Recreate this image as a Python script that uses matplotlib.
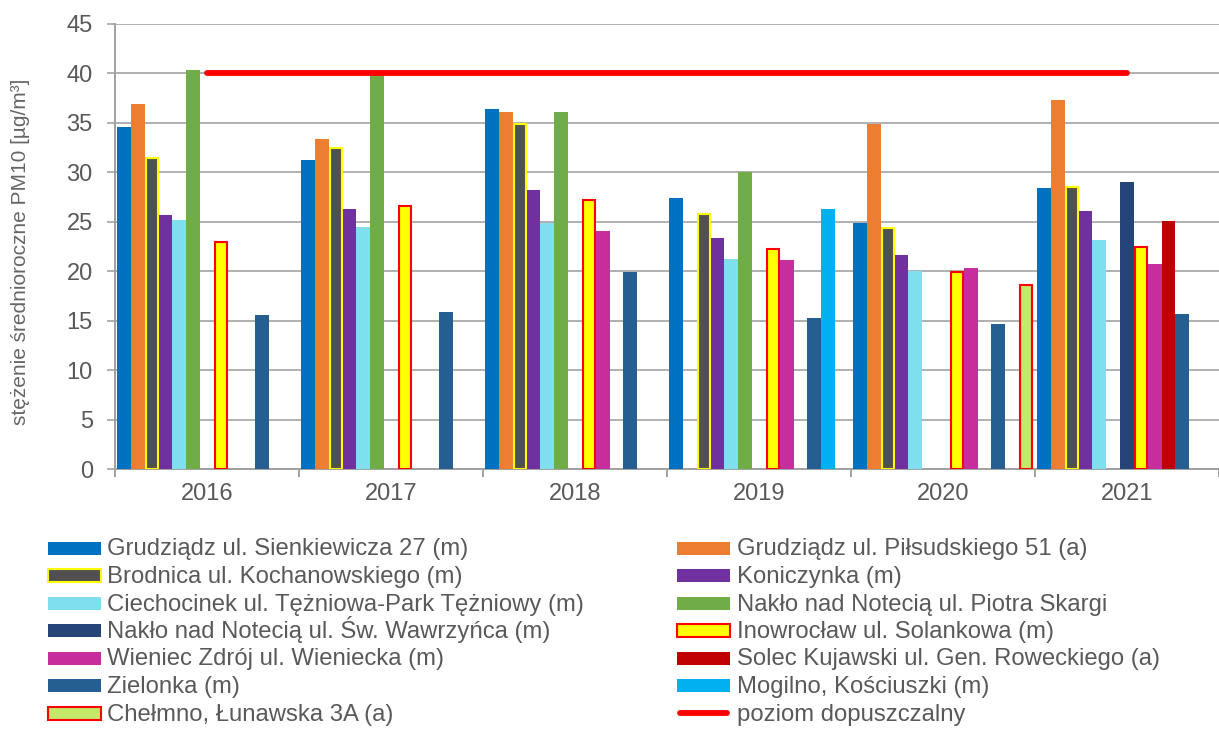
import numpy as np
import matplotlib.pyplot as plt
from matplotlib.patches import Rectangle
from matplotlib.lines import Line2D

plt.rcParams['font.family'] = ['Liberation Sans', 'DejaVu Sans']

years = ['2016', '2017', '2018', '2019', '2020', '2021']
nan = np.nan

stations = [
    'Grudziądz ul. Sienkiewicza 27 (m)',
    'Grudziądz ul. Piłsudskiego 51 (a)',
    'Brodnica ul. Kochanowskiego (m)',
    'Koniczynka (m)',
    'Ciechocinek ul. Tężniowa-Park Tężniowy (m)',
    'Nakło nad Notecią ul. Piotra Skargi',
    'Nakło nad Notecią ul. Św. Wawrzyńca (m)',
    'Inowrocław ul. Solankowa (m)',
    'Wieniec Zdrój ul. Wieniecka (m)',
    'Solec Kujawski ul. Gen. Roweckiego (a)',
    'Zielonka (m)',
    'Mogilno, Kościuszki (m)',
    'Chełmno, Łunawska 3A (a)',
]
limit_label = 'poziom dopuszczalny'

grudziadz_sienk = [34.6, 31.2, 36.4, 27.4, 24.9, 28.4]
grudziadz_pils = [36.9, 33.4, 36.1, nan, 34.9, 37.3]
brodnica = [31.4, 32.5, 34.9, 25.8, 24.4, 28.5]
koniczynka = [25.7, 26.3, 28.2, 23.4, 21.6, 26.1]
ciechocinek = [25.2, 24.5, 24.9, 21.2, 20.0, 23.2]
naklo_skargi = [40.3, 39.9, 36.1, 30.0, nan, nan]
naklo_wawrz = [nan, nan, nan, nan, nan, 29.0]
inowroclaw = [23.0, 26.6, 27.2, 22.2, 19.9, 22.4]
wieniec = [nan, nan, 24.1, 21.1, 20.3, 20.7]
solec = [nan, nan, nan, nan, nan, 25.1]
zielonka = [15.6, 15.9, 19.9, 15.3, 14.7, 15.7]
mogilno = [nan, nan, nan, 26.3, nan, nan]
chelmno = [nan, nan, nan, nan, 18.6, nan]

limit = [40, 40, 40, 40, 40, 40]

values = [grudziadz_sienk, grudziadz_pils, brodnica, koniczynka, ciechocinek,
          naklo_skargi, naklo_wawrz, inowroclaw, wieniec, solec, zielonka,
          mogilno, chelmno]

faces = ['#0070c0', '#ed7d31', '#505050', '#7030a0', '#80dfef', '#70ad47',
         '#264478', '#ffff00', '#c62f9b', '#c00000', '#255e91', '#00b0f0',
         '#c4e86a']
edges = [None, None, '#ffff00', None, None, None,
         None, '#ff0000', None, None, None, None, '#ff0000']

gray = '#595959'
W, H = 1219, 729

fig = plt.figure(figsize=(W / 100, H / 100), dpi=100)
ax = fig.add_axes([115 / W, 1 - 469 / H, 1 - 115 / W, 445 / H])

x = np.arange(len(years))
w = 14 / 186
for k, (vals, fc, ec) in enumerate(zip(values, faces, edges)):
    pos = x + (k - 6) * w
    if ec is None:
        ax.bar(pos, vals, width=w, color=fc, linewidth=0, zorder=3)
    else:
        ax.bar(pos, vals, width=w * 0.88, color=fc, edgecolor=ec,
               linewidth=1.5, zorder=3)

ax.plot(x, limit, color='#ff0000', lw=4.2, solid_capstyle='round', zorder=4)

ax.set_ylim(0, 45)
ax.set_xlim(-0.5, -0.5 + (W - 115) / 186.0)
ax.set_yticks(range(0, 46, 5))
ax.grid(axis='y', color='#b0b0b0', lw=1.4, zorder=0)
ax.set_axisbelow(True)

ax.set_xticks(x)
ax.set_xticklabels(years)
ax.set_xticks(np.arange(-0.5, 6, 1), minor=True)
ax.tick_params(axis='x', which='major', length=0, pad=10, labelsize=17,
               labelcolor=gray)
ax.tick_params(axis='x', which='minor', length=6, width=1.4, color='#a0a0a0')
ax.tick_params(axis='y', length=6, width=1.4, color='#b0b0b0', pad=10,
               labelsize=17, labelcolor=gray)

for s in ['top', 'right']:
    ax.spines[s].set_visible(False)
for s in ['left', 'bottom']:
    ax.spines[s].set_color('#a0a0a0')
    ax.spines[s].set_linewidth(1.4)

ax.set_ylabel('stężenie średnioroczne PM10 [µg/m³]', fontsize=15, color='#666666')
ax.yaxis.set_label_coords((30 - 115) / (W - 115), (469 - 252) / 445)

# legend, laid out in two columns like the original
left_idx = [0, 2, 4, 6, 8, 10, 12]
right_idx = [1, 3, 5, 7, 9, 11, None]
row_y = [548 + 27.5 * r for r in range(7)]


def legend_column(idx_list, x0, x_text):
    for r, i in enumerate(idx_list):
        yc = row_y[r]
        if i is None:
            fig.add_artist(Line2D([(x0 + 3) / W, (x0 + 50) / W],
                                  [1 - yc / H, 1 - yc / H], color='#ff0000',
                                  lw=4.2, solid_capstyle='round'))
            label = limit_label
        else:
            ec = edges[i]
            fig.add_artist(Rectangle((x0 / W, 1 - (yc + 6.5) / H), 53 / W,
                                     13 / H, facecolor=faces[i],
                                     edgecolor=ec if ec else 'none',
                                     linewidth=1.5 if ec else 0))
            label = stations[i]
        fig.text(x_text / W, 1 - (yc + 7.5) / H, label, fontsize=17.2,
                 color=gray, va='baseline', ha='left')


legend_column(left_idx, 48, 107)
legend_column(right_idx, 677, 737)

fig.savefig('out.png', dpi=100)
